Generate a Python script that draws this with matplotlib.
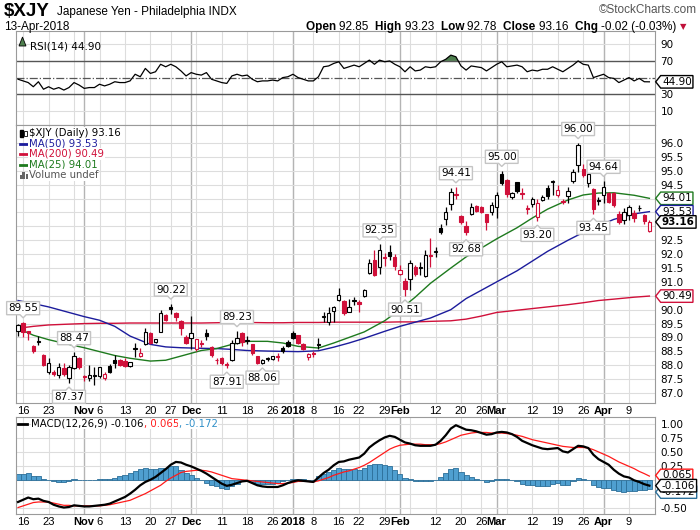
import numpy as np
import pandas as pd
import matplotlib
matplotlib.use('Agg')
import matplotlib.pyplot as plt
from matplotlib.path import Path
from matplotlib.lines import Line2D
from matplotlib.patches import Rectangle

# ---- data ----
holidays = ['2017-11-23', '2017-12-25', '2018-01-01', '2018-01-15', '2018-02-19', '2018-03-30']

opens = [89.25, 89.53, 89.22, 88.68, 88.85, 88.38, 87.77, 87.74, 87.65, 87.89,
         87.53, 87.90, 88.25, 87.62, 87.55, 87.62, 87.60, 87.55, 87.97, 88.20,
         88.20, 88.15, 87.98, 88.60, 88.33, 88.77, 89.17, 88.82, 89.20, 89.81,
         90.10, 89.89, 89.60, 89.03, 88.97, 88.57, 88.80, 89.15, 88.67, 88.20,
         88.25, 88.05, 88.19, 88.80, 89.15, 88.88, 88.75, 88.33, 88.08, 88.22,
         88.22, 88.32, 88.62, 88.82, 89.15, 89.08, 88.78, 88.28, 88.45, 88.74,
         89.75, 89.57, 89.97, 90.35, 90.32, 89.93, 90.33, 90.27, 90.50, 91.33,
         91.79, 91.55, 91.90, 92.06, 91.90, 91.28, 91.05, 91.09, 91.55, 91.50,
         91.21, 91.97, 92.07, 92.95, 93.25, 93.80, 94.15, 93.37, 93.01, 93.44,
         93.73, 93.70, 93.43, 93.50, 93.71, 94.87, 94.67, 94.07, 94.58, 94.20,
         93.67, 93.79, 93.35, 93.95, 94.37, 94.60, 94.13, 93.92, 94.10, 94.63,
         95.20, 95.08, 94.55, 94.35, 93.93, 94.13, 94.19, 94.19, 93.45, 93.23,
         93.41, 93.47, 93.65, 93.42, 92.85]
highs = [89.50, 89.55, 89.25, 88.72, 89.05, 88.40, 88.25, 87.82, 88.07, 88.07,
         88.00, 88.47, 88.30, 87.66, 88.00, 87.95, 87.95, 87.75, 88.05, 88.38,
         88.22, 88.25, 88.12, 88.80, 88.62, 89.33, 89.20, 88.95, 90.00, 89.85,
         90.22, 89.92, 89.62, 89.10, 89.77, 88.95, 88.92, 89.30, 88.70, 88.25,
         88.28, 88.10, 88.90, 89.23, 89.20, 89.05, 88.78, 88.35, 88.22, 88.30,
         88.35, 88.45, 88.70, 88.90, 89.25, 89.10, 88.80, 88.45, 88.50, 88.97,
         89.90, 90.08, 90.15, 90.77, 90.35, 90.40, 90.45, 90.35, 90.75, 91.82,
         92.15, 92.35, 92.03, 92.33, 92.02, 91.60, 91.13, 91.79, 91.60, 91.73,
         92.15, 92.57, 92.25, 93.10, 93.70, 94.37, 94.41, 93.40, 93.20, 93.83,
         93.76, 93.72, 93.46, 93.89, 94.22, 95.00, 94.70, 94.25, 94.60, 94.37,
         93.77, 94.07, 93.98, 94.12, 94.50, 94.66, 94.49, 94.00, 94.43, 95.08,
         96.00, 95.23, 94.95, 94.37, 94.07, 94.64, 94.22, 94.22, 93.55, 93.65,
         93.77, 93.60, 93.77, 93.45, 93.23]
lows = [89.05, 89.00, 88.90, 88.45, 88.73, 87.98, 87.70, 87.62, 87.53, 87.60,
        87.37, 87.85, 87.88, 87.45, 87.45, 87.30, 87.55, 87.48, 87.72, 87.90,
        87.98, 87.95, 87.95, 88.30, 88.30, 88.73, 88.75, 88.80, 89.18, 89.60,
        89.85, 89.60, 89.08, 88.75, 88.57, 88.50, 88.65, 88.90, 88.28, 88.05,
        88.02, 87.91, 88.15, 88.75, 88.70, 88.75, 88.37, 88.05, 88.06, 88.15,
        88.20, 88.15, 88.45, 88.65, 88.95, 88.77, 88.55, 88.20, 88.30, 88.60,
        89.57, 89.45, 89.55, 90.30, 89.80, 89.90, 90.17, 89.93, 90.45, 91.28,
        91.21, 91.30, 91.57, 91.80, 91.43, 91.25, 90.51, 90.70, 91.20, 91.25,
        91.16, 91.52, 91.90, 92.73, 93.05, 93.60, 93.97, 93.10, 92.68, 93.40,
        93.50, 93.48, 92.87, 93.40, 93.29, 94.50, 94.06, 94.00, 94.20, 94.00,
        93.43, 93.70, 93.20, 93.90, 94.00, 94.13, 94.07, 93.80, 93.83, 94.55,
        94.94, 94.79, 94.43, 93.45, 93.77, 93.85, 93.85, 93.70, 93.10, 93.10,
        93.23, 93.14, 93.55, 93.10, 92.78]
closes = [89.45, 89.18, 89.15, 88.50, 88.88, 88.01, 88.09, 87.70, 87.95, 87.68,
          87.95, 88.32, 87.92, 87.58, 87.65, 87.66, 87.92, 87.68, 87.77, 88.08,
          88.00, 87.97, 88.10, 88.63, 88.45, 89.20, 88.79, 88.93, 89.89, 89.63,
          90.01, 89.72, 89.33, 88.81, 89.17, 88.93, 88.78, 89.05, 88.37, 88.18,
          88.07, 88.02, 88.79, 88.97, 88.82, 88.90, 88.45, 88.09, 88.20, 88.25,
          88.33, 88.30, 88.53, 88.70, 88.99, 88.80, 88.60, 88.42, 88.40, 88.76,
          89.77, 89.87, 90.08, 90.53, 89.87, 90.08, 90.35, 90.22, 90.70, 91.67,
          91.25, 92.15, 91.85, 91.92, 91.58, 91.42, 90.73, 91.67, 91.28, 91.52,
          91.97, 91.93, 92.10, 92.78, 93.53, 94.25, 94.12, 93.17, 92.78, 93.71,
          93.57, 93.53, 93.14, 93.77, 94.13, 94.55, 94.16, 94.21, 94.27, 94.18,
          93.64, 93.98, 93.83, 94.07, 94.10, 94.64, 94.31, 93.88, 94.27, 94.94,
          95.93, 94.85, 94.87, 93.62, 93.95, 94.43, 93.89, 93.77, 93.14, 93.53,
          93.71, 93.31, 93.67, 93.184, 93.16]

# moving averages, read every few sessions
ma_idx = [0, 3, 6, 10, 13, 16, 19, 22, 26, 29, 32, 36, 39, 42, 45, 49, 52, 55, 59, 62,
          65, 68, 72, 75, 78, 81, 85, 88, 91, 94, 98, 101, 104, 108, 111, 114, 117, 121, 124]
ma50 = [90.33, 90.22, 90.10, 89.90, 89.75, 89.62, 89.40, 89.05, 88.75, 88.66,
        88.63, 88.61, 88.60, 88.57, 88.53, 88.51, 88.50, 88.49, 88.52, 88.65,
        88.80, 88.97, 89.22, 89.40, 89.55, 89.70, 90.00, 90.40, 90.70, 91.00,
        91.40, 91.75, 92.10, 92.50, 92.78, 93.02, 93.25, 93.45, 93.53]
ma200 = [89.33, 89.40, 89.45, 89.48, 89.50, 89.51, 89.51, 89.52, 89.52, 89.52,
         89.52, 89.52, 89.53, 89.54, 89.54, 89.53, 89.53, 89.54, 89.54, 89.55,
         89.55, 89.55, 89.55, 89.56, 89.56, 89.58, 89.60, 89.66, 89.77, 89.90,
         89.98, 90.04, 90.10, 90.18, 90.25, 90.33, 90.38, 90.45, 90.49]
ma25 = [89.33, 89.08, 88.92, 88.75, 88.63, 88.49, 88.35, 88.25, 88.15, 88.18,
        88.33, 88.53, 88.60, 88.75, 88.86, 88.86, 88.80, 88.68, 88.62, 88.80,
        89.00, 89.20, 89.60, 90.00, 90.45, 90.95, 91.50, 91.90, 92.22, 92.55,
        92.95, 93.30, 93.62, 93.95, 94.13, 94.20, 94.21, 94.12, 94.01]

rsi = [48, 46, 44, 39, 45, 36, 39, 36, 38, 35,
       38, 44, 41, 37, 38, 38, 42, 40, 42, 45,
       44, 44, 46, 54, 51, 61, 55, 57, 66, 63,
       66, 63, 58, 52, 56, 54, 53, 56, 48, 46,
       44, 43, 52, 54, 52, 53, 48, 45, 46, 46,
       47, 46, 50, 51, 54, 50, 48, 46, 46, 51,
       63, 64, 67, 69, 61, 63, 65, 63, 67, 71,
       66, 71, 69, 70, 66, 63, 57, 63, 58, 59,
       63, 62, 63, 69, 72, 77, 75, 64, 59, 64,
       63, 62, 58, 62, 66, 69, 63, 64, 65, 63,
       57, 59, 58, 60, 60, 63, 60, 57, 61, 65,
       70, 66, 65, 50, 52, 54, 50, 49, 44, 47,
       50, 46, 49, 45, 44.9]

macd = [-0.40, -0.36, -0.32, -0.35, -0.34, -0.38, -0.40, -0.45, -0.48, -0.50,
        -0.49, -0.46, -0.47, -0.48, -0.48, -0.47, -0.46, -0.45, -0.43, -0.39,
        -0.35, -0.31, -0.25, -0.18, -0.10, -0.04, 0.00, 0.05, 0.12, 0.19,
        0.27, 0.32, 0.31, 0.27, 0.24, 0.20, 0.16, 0.11, 0.05, -0.01,
        -0.07, -0.11, -0.09, -0.06, -0.03, -0.02, -0.06, -0.10, -0.12, -0.13,
        -0.13, -0.13, -0.10, -0.06, -0.03, -0.01, -0.02, -0.03, -0.04, 0.04,
        0.12, 0.18, 0.26, 0.32, 0.33, 0.36, 0.38, 0.40, 0.47, 0.58,
        0.65, 0.71, 0.76, 0.79, 0.77, 0.72, 0.67, 0.65, 0.62, 0.61,
        0.61, 0.61, 0.63, 0.70, 0.80, 0.92, 0.98, 0.94, 0.90, 0.89,
        0.87, 0.84, 0.81, 0.82, 0.85, 0.86, 0.85, 0.82, 0.77, 0.70,
        0.66, 0.62, 0.59, 0.56, 0.55, 0.56, 0.57, 0.51, 0.49, 0.55,
        0.61, 0.60, 0.57, 0.45, 0.37, 0.32, 0.27, 0.18, 0.11, 0.06,
        0.04, -0.01, -0.04, -0.08, -0.1064]
signal = [-0.50, -0.47, -0.44, -0.41, -0.40, -0.40, -0.40, -0.42, -0.44, -0.46,
          -0.46, -0.47, -0.47, -0.47, -0.47, -0.47, -0.47, -0.46, -0.45, -0.43,
          -0.41, -0.39, -0.37, -0.33, -0.29, -0.25, -0.20, -0.15, -0.10, -0.03,
          0.03, 0.08, 0.13, 0.15, 0.16, 0.17, 0.17, 0.16, 0.14, 0.11,
          0.08, 0.05, 0.02, 0.01, 0.00, -0.01, -0.02, -0.03, -0.04, -0.05,
          -0.06, -0.07, -0.07, -0.06, -0.05, -0.03, -0.03, -0.03, -0.04, -0.02,
          0.01, 0.04, 0.08, 0.11, 0.14, 0.16, 0.19, 0.22, 0.26, 0.31,
          0.37, 0.43, 0.49, 0.55, 0.59, 0.62, 0.63, 0.64, 0.64, 0.64,
          0.63, 0.63, 0.63, 0.65, 0.68, 0.72, 0.76, 0.80, 0.82, 0.84,
          0.85, 0.85, 0.85, 0.84, 0.84, 0.84, 0.83, 0.82, 0.80, 0.78,
          0.75, 0.72, 0.70, 0.68, 0.66, 0.64, 0.62, 0.60, 0.59, 0.58,
          0.58, 0.58, 0.57, 0.54, 0.50, 0.46, 0.42, 0.37, 0.32, 0.28,
          0.24, 0.20, 0.15, 0.11, 0.0654]

# labelled highs / lows
ann_idx = [1, 10, 11, 30, 41, 43, 48, 71, 76, 86, 88, 95, 102, 110, 113, 115]
ann_kind = ['H', 'L', 'H', 'H', 'L', 'H', 'L', 'H', 'L', 'H', 'L', 'H', 'L', 'H', 'L', 'H']

tick_dates = ['2017-10-16', '2017-10-23', '2017-11-01', '2017-11-06', '2017-11-13', '2017-11-20',
              '2017-11-27', '2017-12-01', '2017-12-11', '2017-12-18', '2017-12-26', '2018-01-02',
              '2018-01-08', '2018-01-16', '2018-01-22', '2018-01-29', '2018-02-01', '2018-02-12',
              '2018-02-20', '2018-02-26', '2018-03-01', '2018-03-12', '2018-03-19', '2018-03-26',
              '2018-04-02', '2018-04-09']
tick_labels = ['16', '23', 'Nov', '6', '13', '20', '27', 'Dec', '11', '18', '26', '2018',
               '8', '16', '22', '29', 'Feb', '12', '20', '26', 'Mar', '12', '19', '26', 'Apr', '9']
month_labels = ['Nov', 'Dec', '2018', 'Feb', 'Mar', 'Apr']

# ---- derived ----
dates = pd.bdate_range('2017-10-13', '2018-04-13', freq='C', holidays=holidays)
x = np.arange(len(dates))
o, h, l, c = map(np.array, (opens, highs, lows, closes))
prev = np.r_[c[0] - 1, c[:-1]]
col = np.where(c < prev, '#d0103a', '#000000')
face = np.where(c >= o, 'white', col)
macd = np.array(macd)
signal = np.array(signal)
hist = macd - signal
rsi = np.array(rsi, dtype=float)
tick_pos = dates.get_indexer(pd.to_datetime(tick_dates))
week_pos = [i for i in range(1, len(dates)) if dates[i].weekday() < dates[i - 1].weekday()]
month_pos = [i for i in range(1, len(dates)) if dates[i].month != dates[i - 1].month]

W, H = 700, 530
plt.rcParams['font.family'] = 'DejaVu Sans'


def fr(left, top, w, hh):
    return [left / W, 1 - (top + hh) / H, w / W, hh / H]


def tag_style(x0, y0, width, height, mutation_size):
    pad = mutation_size * 0.12
    x0, y0 = x0 - pad, y0 - pad
    x1, y1 = x0 + width + 2 * pad, y0 + height + 2 * pad
    t = (y1 - y0) / 2
    return Path([(x0, y0), (x1, y0), (x1, y1), (x0, y1), (x0 - t * 0.8, y0 + t), (x0, y0)], closed=True)


def tip_style(down):
    def style(x0, y0, width, height, mutation_size):
        pad = mutation_size * 0.15
        x0, y0 = x0 - pad, y0 - pad
        x1, y1 = x0 + width + 2 * pad, y0 + height + 2 * pad
        xc = (x0 + x1) / 2
        t = mutation_size * 0.3
        if down:
            v = [(x0, y0), (xc - t, y0), (xc, y0 - t), (xc + t, y0), (x1, y0), (x1, y1), (x0, y1), (x0, y0)]
        else:
            v = [(x0, y0), (x1, y0), (x1, y1), (xc + t, y1), (xc, y1 + t), (xc - t, y1), (x0, y1), (x0, y0)]
        return Path(v, closed=True)
    return style


def tag(ax, y, text, color, bold=False, z=10, dy=0):
    ax.annotate(text, xy=(1, y), xycoords=('axes fraction', 'data'), xytext=(5, dy),
                textcoords='offset points', ha='left', va='center', fontsize=7.5,
                weight='bold' if bold else 'normal', annotation_clip=False, zorder=z,
                bbox=dict(boxstyle=tag_style, fc='white', ec=color, lw=1))


def right_ticks(ax, ticks, fmt, tags, gap):
    # labels that sit under a value tag are hidden, as on the original
    ax.set_yticks(ticks)
    ax.set_yticklabels(['' if min(abs(v - t) for t in tags) < gap else fmt % v for v in ticks])


def base(ax):
    ax.set_xlim(-0.4, 125.1)
    for s in ax.spines.values():
        s.set_color('#9a9a9a')
    for p in week_pos:
        ax.axvline(p, color='#dddddd', lw=0.8, zorder=0)
    for p in month_pos:
        ax.axvline(p, color='#b4b4b4', lw=1.0, zorder=0)
    ax.yaxis.tick_right()
    ax.tick_params(axis='y', length=0, pad=4, labelsize=7.5)
    ax.tick_params(axis='x', length=0, pad=2, labelsize=8)


def date_ticks(ax):
    ax.set_xticks(tick_pos)
    ax.set_xticklabels(tick_labels)
    for t in ax.get_xticklabels():
        t.set_fontfamily('Liberation Sans')
        if t.get_text() in month_labels:
            t.set_fontweight('bold')


fig = plt.figure(figsize=(7, 5.3), dpi=100)

# ---- RSI panel ----
ax_r = fig.add_axes(fr(16, 31, 639, 94))
base(ax_r)
ax_r.set_ylim(-7, 106)
right_ticks(ax_r, [10, 30, 50, 70, 90], '%d', [rsi[-1]], 8)
ax_r.set_xticks([])
for v in [10, 90]:
    ax_r.axhline(v, color='#dddddd', lw=0.8, zorder=0)
ax_r.axhline(70, color='#555555', lw=1)
ax_r.axhline(30, color='#555555', lw=1)
ax_r.axhline(50, color='#555555', lw=0.9, ls='-.')
ax_r.fill_between(x, rsi, 70, where=rsi >= 70, interpolate=True, color='#4e7f4e', lw=0)
ax_r.plot(x, rsi, color='black', lw=0.9)
tag(ax_r, rsi[-1], '%.2f' % rsi[-1], 'black')
ax_r.text(0.022, 0.84, 'RSI(14) %.2f' % rsi[-1], transform=ax_r.transAxes, fontsize=7.5, va='center')
fig.add_artist(plt.Polygon([(19 / W, 1 - 46 / H), (22.5 / W, 1 - 37 / H), (26 / W, 1 - 46 / H)],
                           closed=True, fc='#4e7f4e', ec='black', lw=0.6))

# ---- price panel ----
ax_p = fig.add_axes(fr(16, 125, 639, 278))
base(ax_p)
ax_p.set_ylim(86.64, 96.65)
yt = np.arange(87.0, 96.01, 0.5)
right_ticks(ax_p, yt, '%.1f', [ma25[-1], ma50[-1], c[-1], ma200[-1]], 0.25)
for v in yt:
    ax_p.axhline(v, color='#dddddd', lw=0.8, zorder=0)
date_ticks(ax_p)

ax_p.plot(ma_idx, ma200, color='#d0103a', lw=1.0, zorder=2)
ax_p.plot(ma_idx, ma50, color='#1c1c9c', lw=1.0, zorder=2)
ax_p.plot(ma_idx, ma25, color='#1e7a1e', lw=1.0, zorder=2)

ax_p.vlines(x, l, h, colors=col, lw=0.9, zorder=3)
ax_p.bar(x, np.maximum(np.abs(c - o), 0.012), bottom=np.minimum(o, c), width=0.66,
         color=face, edgecolor=col, lw=0.8, zorder=4)

for i, k in zip(ann_idx, ann_kind):
    if k == 'H':
        ax_p.annotate('%.2f' % h[i], xy=(i, h[i]), xytext=(0, 6.5), textcoords='offset points',
                      ha='center', va='bottom', fontsize=7.5, zorder=6,
                      bbox=dict(boxstyle=tip_style(True), fc='white', ec='#c4c4c4', lw=1))
    else:
        ax_p.annotate('%.2f' % l[i], xy=(i, l[i]), xytext=(0, -6.5), textcoords='offset points',
                      ha='center', va='top', fontsize=7.5, zorder=6,
                      bbox=dict(boxstyle=tip_style(False), fc='white', ec='#c4c4c4', lw=1))

tag(ax_p, ma25[-1], '%.2f' % ma25[-1], '#1e7a1e')
tag(ax_p, ma50[-1], '%.2f' % ma50[-1], '#1c1c9c')
tag(ax_p, c[-1], '%.2f' % c[-1], 'black', bold=True, z=11)
tag(ax_p, ma200[-1], '%.2f' % ma200[-1], '#d0103a')

leg = [('\\$XJY (Daily) %.2f' % c[-1], 'black'), ('MA(50) %.2f' % ma50[-1], '#1c1c9c'),
       ('MA(200) %.2f' % ma200[-1], '#d0103a'), ('MA(25) %.2f' % ma25[-1], '#1e7a1e'),
       ('Volume undef', '#555555')]
for k, (s, cc) in enumerate(leg):
    yy = 133 + k * 10.5
    fig.text(29 / W, 1 - yy / H, s, color=cc, fontsize=7.3, va='center',
             bbox=dict(fc='white', ec='none', pad=0.6))
    if 1 <= k <= 3:
        fig.add_artist(Line2D([20 / W, 28 / W], [1 - yy / H] * 2, color=cc, lw=2))
fig.add_artist(Rectangle((20 / W, 1 - 137 / H), 2.5 / W, 7 / H, fc='black', ec='black'))
fig.add_artist(Rectangle((24 / W, 1 - 136 / H), 2.5 / W, 5 / H, fc='white', ec='black', lw=0.6))
for k, hh in enumerate([4, 7, 5]):
    fig.add_artist(Rectangle(((19.5 + k * 3) / W, 1 - 179 / H), 2.2 / W, hh / H, fc='#666666', ec='none'))

# ---- MACD panel ----
ax_m = fig.add_axes(fr(16, 417, 639, 97))
base(ax_m)
ax_m.set_ylim(-0.616, 1.128)
mt = [-0.5, -0.25, 0.0, 0.25, 0.5, 0.75, 1.0]
right_ticks(ax_m, mt, '%.2f', [macd[-1], signal[-1], hist[-1]], 0.12)
for v in mt:
    ax_m.axhline(v, color='#dddddd', lw=0.8, zorder=0)
date_ticks(ax_m)
ax_m.bar(x, hist, width=1.0, color='#4f9fd0', edgecolor='#2c6f99', lw=0.6, zorder=2)
ax_m.plot(x, signal, color='#ff1a1a', lw=0.9, zorder=3)
ax_m.plot(x, macd, color='black', lw=1.6, zorder=4)
tag(ax_m, hist[-1], '%.3f' % hist[-1], '#2c6f99', z=9, dy=-2)
tag(ax_m, signal[-1], '%.3f' % signal[-1], '#ff1a1a', z=10, dy=0.5)
tag(ax_m, macd[-1], '%.3f' % macd[-1], 'black', z=11)

r = fig.canvas.get_renderer()
fig.add_artist(Line2D([18 / W, 27 / W], [1 - 424 / H] * 2, color='black', lw=2))
xx = 31
for s, cc in [('MACD(12,26,9) %.3f' % macd[-1], 'black'), (', %.3f' % signal[-1], '#ff1a1a'),
              (', %.3f' % hist[-1], '#2f8fc8')]:
    t = fig.text(xx / W, 1 - 424 / H, s, color=cc, fontsize=7.3, va='center',
                 bbox=dict(fc='white', ec='none', pad=0.3))
    xx = t.get_window_extent(r).x1

# ---- header ----
fig.text(4 / W, 1 - 12 / H, '\\$XJY', fontsize=13.5, weight='bold', family='Liberation Sans', va='center')
fig.text(57 / W, 1 - 12 / H, 'Japanese Yen - Philadelphia INDX', fontsize=8.5, family='Liberation Sans', va='center')
fig.text(697 / W, 1 - 10 / H, '\u00a9StockCharts.com', fontsize=8.5, family='Liberation Sans', va='center',
         ha='right', color='#555555')
fig.text(4 / W, 1 - 27 / H, '13-Apr-2018', fontsize=8.5, family='Liberation Sans', va='center')
chg = c[-1] - c[-2]
pieces = [('Open ', 'bold'), ('%.2f  ' % o[-1], 'normal'), ('High ', 'bold'), ('%.2f  ' % h[-1], 'normal'),
          ('Low ', 'bold'), ('%.2f  ' % l[-1], 'normal'), ('Close ', 'bold'), ('%.2f  ' % c[-1], 'normal'),
          ('Chg ', 'bold'), ('%.2f (%.2f%%) ' % (chg, chg / c[-2] * 100), 'normal')]
xx = 306
for s, wgt in pieces:
    t = fig.text(xx / W, 1 - 27 / H, s, fontsize=8.5, weight=wgt, family='Liberation Sans', va='center')
    xx = t.get_window_extent(r).x1
fig.text(xx / W, 1 - 27 / H, '\u25bc', fontsize=6, color='#c0103a', va='center')

fig.savefig('out.png', dpi=100)
